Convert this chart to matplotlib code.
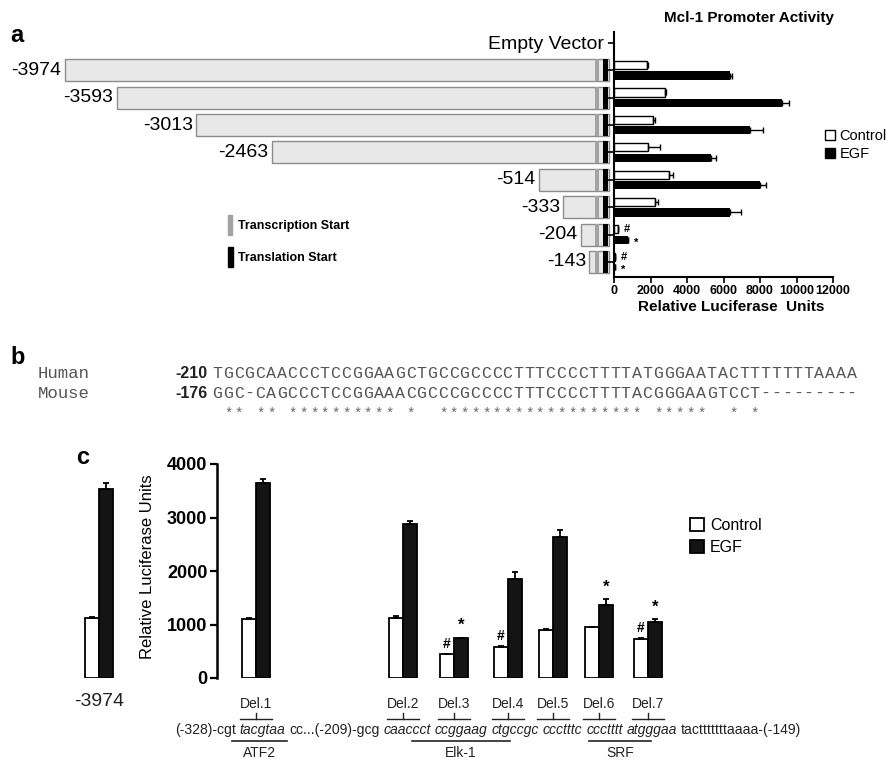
import matplotlib
matplotlib.use("Agg")
import matplotlib.pyplot as plt
from matplotlib.patches import Rectangle

plt.rcParams['font.family'] = ['Liberation Sans', 'DejaVu Sans']

# ---- data, panel a
a_names = ["-3974", "-3593", "-3013", "-2463", "-514", "-333", "-204", "-143"]
a_start = [-3974, -3593, -3013, -2463, -514, -333, -204, -143]
a_control = [1810, 2780, 2140, 1860, 3000, 2230, 220, 40]
a_control_err = [60, 60, 80, 640, 230, 180, 0, 0]
a_egf = [6340, 9220, 7470, 5330, 7980, 6370, 770, 30]
a_egf_err = [150, 370, 690, 270, 370, 600, 0, 0]
a_ctrl_mark = ["", "", "", "", "", "", "#", "#"]
a_egf_mark = ["", "", "", "", "", "", "*", "*"]
tss = (-101, -72)   # transcription start (bp)
atg = (-42, -5)     # translation start (bp)

# ---- data, panel b
human = "TGCGCAACCCTCCGGAAGCTGCCGCCCCTTTCCCCTTTTATGGGAATACTTTTTTTAAAA"
mouse = "GGC-CAGCCCTCCGGAAACGCCCGCCCCTTTCCCCTTTTACGGGAAGTCCT---------"
stars = " ** ** ********** *  ******************* *****  * *"

# ---- data, panel c
c_names = ["-3974", "Del.1", "Del.2", "Del.3", "Del.4", "Del.5", "Del.6", "Del.7"]
c_control = [1116, 1097, 1121, 443, 585, 897, 959, 729]
c_control_err = [20, 20, 40, 10, 20, 20, 0, 10]
c_egf = [3533, 3645, 2878, 742, 1850, 2641, 1364, 1041]
c_egf_err = [110, 80, 50, 15, 125, 125, 110, 56]
c_ctrl_mark = ["", "", "", "#", "#", "", "", "#"]
c_egf_mark = ["", "", "", "*", "", "", "*", "*"]
# promoter sequence under panel c: (text, italic)
c_seq = [("(-328)-cgt", False), ("tacgtaa", True), ("cc...(-209)-gcg", False),
         ("caaccct", True), ("ccggaag", True), ("ctgccgc", True), ("ccctttc", True),
         ("ccctttt", True), ("atgggaa", True), ("tactttttttaaaa-(-149)", False)]

W, H = 886, 763
fig = plt.figure(figsize=(W / 100, H / 100), dpi=100)


def px_axes(l, t, r, b, **kw):
    return fig.add_axes([l / W, 1 - b / H, (r - l) / W, (b - t) / H], **kw)


ov = px_axes(0, 0, W, H, zorder=5)
ov.set_xlim(0, W)
ov.set_ylim(H, 0)
ov.axis('off')

# ================= panel a =================
rows = list(range(1, 9))
ylim_a = (8.55, -0.40)

# promoter constructs
ax_l = px_axes(0, 32, 614, 277)
ax_l.set_xlim(-4445, 36)
ax_l.set_ylim(*ylim_a)
ax_l.axis('off')
ax_l.barh(rows, [-s for s in a_start], left=a_start, height=0.8,
          color='#e8e8e8', edgecolor='#8c8c8c', lw=1)
ax_l.barh(rows, tss[1] - tss[0], left=tss[0], height=0.8, color='#a3a3a3', lw=0)
ax_l.barh(rows, atg[1] - atg[0], left=atg[0], height=0.8, color='black', lw=0)
for r, s, n in zip(rows, a_start, a_names):
    ax_l.text(s - 25, r, n, ha='right', va='center', fontsize=14)

ov.add_patch(Rectangle((228, 215), 4, 20, color='#a3a3a3'))
ov.add_patch(Rectangle((228, 247), 5, 20, color='black'))
ov.text(238, 226, "Transcription Start", fontsize=9, fontweight='bold', va='center')
ov.text(238, 258, "Translation Start", fontsize=9, fontweight='bold', va='center')
ov.text(10, 35, "a", fontsize=17, fontweight='bold', va='center')

# luciferase bars
ax_a = px_axes(614, 32, 833, 277)
ax_a.set_xlim(0, 12000)
ax_a.set_ylim(*ylim_a)
yc = [r - 0.19 for r in rows]
ye = [r + 0.19 for r in rows]
ax_a.barh(yc, a_control, height=0.3, facecolor='white', edgecolor='black', lw=1,
          xerr=[[0] * 8, a_control_err], capsize=2, error_kw=dict(lw=1, capthick=1))
ax_a.barh(ye, a_egf, height=0.3, color='black',
          xerr=[[0] * 8, a_egf_err], capsize=2, error_kw=dict(lw=1, capthick=1))
for y, v, m in zip(yc, a_control, a_ctrl_mark):
    if m:
        ax_a.text(v + 480, y, m, ha='center', va='center', fontsize=8, fontweight='bold')
for y, v, m in zip(ye, a_egf, a_egf_mark):
    if m:
        ax_a.text(v + 470, y + 0.1, m, ha='center', va='center', fontsize=8, fontweight='bold')

for s in ['top', 'right']:
    ax_a.spines[s].set_visible(False)
for s in ['left', 'bottom']:
    ax_a.spines[s].set_linewidth(1.5)
ax_a.set_yticks(range(9))
ax_a.set_yticklabels(["Empty Vector"] + [""] * 8, fontsize=14)
ax_a.set_xticks(range(0, 12001, 2000))
ax_a.set_xticklabels([str(v) for v in range(0, 12001, 2000)], fontsize=9, fontweight='bold')
ax_a.tick_params(length=4, width=1.2, pad=3)
ax_a.tick_params(axis='x', pad=2)
ov.text(731, 307, "Relative Luciferase  Units", fontsize=11, fontweight='bold',
        ha='center', va='center')
ov.text(749, 18, "Mcl-1 Promoter Activity", fontsize=11, fontweight='bold',
        ha='center', va='center')

fig.legend([Rectangle((0, 0), 1, 1, fc='white', ec='black', lw=1),
            Rectangle((0, 0), 1, 1, fc='black', ec='black')],
           ["Control", "EGF"], loc='center left', bbox_to_anchor=(825 / W, 1 - 145 / H),
           frameon=False, fontsize=10.5, handlelength=0.7, handleheight=0.7,
           handletextpad=0.3, labelspacing=0.25, borderpad=0, borderaxespad=0)

# ================= panel b =================
ov.text(10, 357, "b", fontsize=17, fontweight='bold', va='center')
mono = 'Liberation Mono'
pitch = 10.75
for y, name, num, seq in [(373, "Human", "-210", human), (393, "Mouse", "-176", mouse)]:
    ov.text(38, y, name, family=mono, fontsize=12.5, color='#555555', va='center')
    ov.text(208, y, num, fontsize=11.5, fontweight='bold', color='#222222',
            ha='right', va='center')
    for i, ch in enumerate(seq):
        ov.text(212 + (i + 0.5) * pitch, y, ch, family=mono, fontsize=12,
                color='#555555', ha='center', va='center')
for i, ch in enumerate(stars):
    if ch != ' ':
        ov.text(212 + (i + 0.5) * pitch, 414, ch, family=mono, fontsize=10,
                color='#666666', ha='center', va='center')

# ================= panel c =================
ov.text(76, 458, "c", fontsize=17, fontweight='bold', va='center')
c_pos = [99, 256, 403, 454, 508, 553, 599, 648]
bw = 14
ax_c = px_axes(60, 464, 700, 678)
ax_c.set_xlim(60, 700)
ax_c.set_ylim(0, 4000)
xc = [p - bw / 2 for p in c_pos]
xe = [p + bw / 2 for p in c_pos]
ax_c.bar(xc, c_control, width=bw, facecolor='white', edgecolor='black', lw=1.3,
         yerr=[[0] * 8, c_control_err], capsize=2.5, error_kw=dict(lw=1.3, capthick=1.3))
ax_c.bar(xe, c_egf, width=bw, facecolor='#141414', edgecolor='black', lw=1.3,
         yerr=[[0] * 8, c_egf_err], capsize=2.5, error_kw=dict(lw=1.3, capthick=1.3))
for x, v, e, m in zip(xc, c_control, c_control_err, c_ctrl_mark):
    if m:
        ax_c.annotate(m, (x, v + e), xytext=(0, 10), textcoords='offset pixels',
                      ha='center', va='center', fontsize=10, fontweight='bold')
for x, v, e, m in zip(xe, c_egf, c_egf_err, c_egf_mark):
    if m:
        ax_c.annotate(m, (x, v + e), xytext=(0, 12), textcoords='offset pixels',
                      ha='center', va='center', fontsize=12, fontweight='bold')

for s in ['top', 'right', 'bottom']:
    ax_c.spines[s].set_visible(False)
ax_c.spines['left'].set_position(('data', 217))
ax_c.spines['left'].set_bounds(0, 4000)
ax_c.spines['left'].set_linewidth(1.8)
ax_c.set_xticks([])
ax_c.set_yticks(range(0, 4001, 1000))
ax_c.set_yticklabels([str(v) for v in range(0, 4001, 1000)], fontsize=13, fontweight='bold')
ax_c.tick_params(axis='y', length=5, width=1.6, pad=2)
ov.text(148, 567, "Relative Luciferase Units", fontsize=12, rotation=90,
        ha='center', va='center')

fig.legend([Rectangle((0, 0), 1, 1, fc='white', ec='black', lw=1.3),
            Rectangle((0, 0), 1, 1, fc='#141414', ec='black', lw=1.3)],
           ["Control", "EGF"], loc='upper left', bbox_to_anchor=(690 / W, 1 - 518 / H),
           frameon=False, fontsize=11.5, handlelength=0.85, handleheight=0.85,
           handletextpad=0.4, labelspacing=0.45, borderpad=0, borderaxespad=0)

ink = '#222222'
ov.text(c_pos[0], 701, c_names[0], fontsize=14, ha='center', va='center', color=ink)
for p, n in zip(c_pos[1:], c_names[1:]):
    ov.text(p, 704, n, fontsize=10, ha='center', va='center', color=ink)
    ov.plot([p - 16, p + 16], [719, 719], color=ink, lw=1)
    ov.plot([p, p], [713, 719], color=ink, lw=1)

# sequence line, laid out piece by piece
rend = fig.canvas.get_renderer()
seq_fs = 10.1
base = 734


def text_w(s, **kw):
    t = ov.text(0, 0, s, fontsize=seq_fs, **kw)
    w = t.get_window_extent(renderer=rend).width
    t.remove()
    return w


space = text_w("x x") - text_w("xx")
x = 175
for s, it in c_seq:
    t = ov.text(x, base, s, fontsize=seq_fs, style='italic' if it else 'normal',
                ha='left', va='baseline', color=ink)
    x += t.get_window_extent(renderer=rend).width + space

for x0, x1, name in [(232, 287, "ATF2"), (412, 510, "Elk-1"), (589, 651, "SRF")]:
    ov.plot([x0, x1], [741, 741], color=ink, lw=1.2)
    ov.text((x0 + x1) / 2, 753, name, fontsize=10, ha='center', va='center', color=ink)

fig.savefig("out.png", dpi=100)
